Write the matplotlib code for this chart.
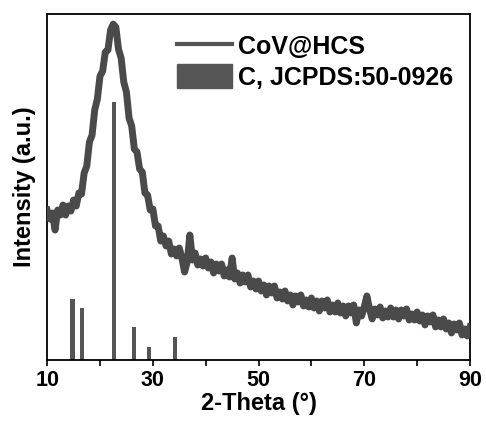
import numpy as np
import matplotlib
matplotlib.use("Agg")
from matplotlib import pyplot as plt
from matplotlib.lines import Line2D
from matplotlib.patches import Patch

plt.rcParams['font.family'] = ['Liberation Sans', 'DejaVu Sans']
plt.rcParams['font.weight'] = 'bold'

# measured pattern, 10-90 deg in 0.5 deg steps
two_theta = np.arange(10, 90.5, 0.5)
intensity = [
    150, 141, 147, 130, 150, 145, 155, 145, 154, 149,
    160, 154, 167, 166, 187, 194, 218, 225, 250, 261,
    284, 289, 308, 310, 330, 336, 333, 311, 302, 278,
    268, 242, 234, 211, 208, 191, 188, 167, 165, 150,
    151, 134, 134, 119, 124, 114, 119, 106, 111, 104,
    112, 102, 88, 98, 125, 100, 107, 95, 101, 94,
    102, 92, 98, 87, 96, 89, 96, 84, 90, 83,
    102, 81, 87, 77, 85, 78, 85, 73, 79, 71,
    79, 69, 75, 65, 74, 67, 74, 62, 68, 61,
    69, 59, 65, 55, 64, 58, 65, 54, 60, 53,
    62, 52, 59, 49, 59, 52, 60, 48, 55, 48,
    57, 47, 54, 44, 54, 47, 55, 37, 50, 44,
    53, 64, 51, 41, 51, 45, 53, 42, 49, 43,
    52, 43, 50, 41, 50, 44, 51, 40, 46, 40,
    48, 39, 45, 35, 44, 38, 45, 33, 40, 33,
    41, 31, 37, 27, 36, 30, 37, 25, 31, 24,
    33,
]

# reference card C, JCPDS 50-0926
ref_pos = [14.8, 16.6, 22.7, 26.5, 29.3, 34.2]
ref_int = [61, 52, 258, 33, 13, 23]

grey = '#555555'

fig = plt.figure(figsize=(4.86, 4.28), dpi=100)
ax = fig.add_axes([0.097, 0.159, 0.870, 0.808])

ax.bar(ref_pos, ref_int, width=0.8, color=grey, zorder=2)
ax.plot(two_theta, intensity, color='#4a4a4a', lw=5, zorder=3)

ax.set_xlim(10, 90)
ax.set_ylim(0, 346)
ax.set_xticks([10, 30, 50, 70, 90])
ax.set_xticks([20, 40, 60, 80], minor=True)
ax.set_yticks([])
ax.tick_params(axis='x', which='both', direction='out', length=4, width=1.2,
               labelsize=15.5, pad=3)
for lab in ax.get_xticklabels():
    lab.set_fontweight('bold')
for s in ax.spines.values():
    s.set_linewidth(1.3)

ax.set_xlabel('2-Theta (°)', fontsize=17, fontweight='bold', labelpad=1)
ax.set_ylabel('Intensity (a.u.)', fontsize=17, fontweight='bold', labelpad=8)

handles = [Line2D([], [], color=grey, lw=3),
           Patch(facecolor=grey, edgecolor=grey)]
ax.legend(handles, ['CoV@HCS', 'C, JCPDS:50-0926'], loc='upper left',
          bbox_to_anchor=(0.254, 1.009), frameon=False,
          prop={'weight': 'bold', 'size': 18},
          handlelength=2.2, handleheight=1.1, handletextpad=0.25,
          labelspacing=0.2)

fig.savefig('out.png', dpi=100)
